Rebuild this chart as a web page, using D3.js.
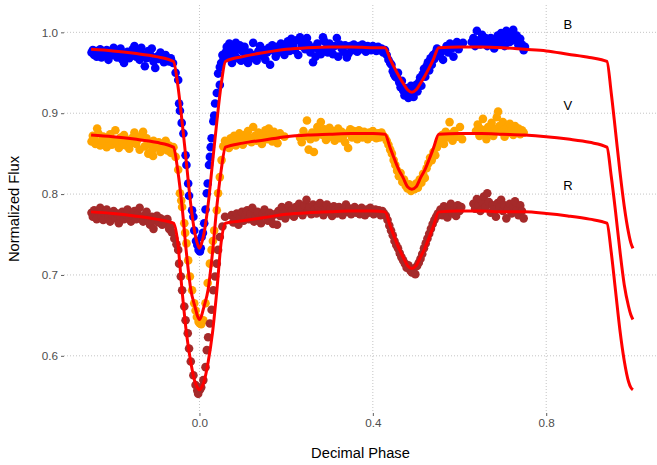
<!DOCTYPE html>
<html>
<head>
<meta charset="utf-8">
<script src="https://cdn.jsdelivr.net/npm/d3@7"></script>
<style>
  body { margin: 0; background: #ffffff; }
  text { font-family: "Liberation Sans", Arial, Helvetica, sans-serif; }
</style>
</head>
<body>
<svg id="chart" width="657" height="465"></svg>
<script>
// Observed photometry: [phase, normalized flux]
const bandB = [
  [-0.249,0.975],[-0.246,0.978],[-0.243,0.972],[-0.240,0.977],[-0.237,0.970],[-0.233,0.974],[-0.229,0.979],[-0.226,0.969],
  [-0.222,0.975],[-0.218,0.972],[-0.214,0.978],[-0.210,0.966],[-0.206,0.971],[-0.202,0.975],[-0.198,0.981],[-0.194,0.977],
  [-0.190,0.969],[-0.186,0.973],[-0.182,0.980],[-0.178,0.966],[-0.174,0.962],[-0.170,0.971],[-0.166,0.976],[-0.162,0.968],
  [-0.158,0.974],[-0.154,0.979],[-0.150,0.983],[-0.146,0.970],[-0.142,0.976],[-0.138,0.966],[-0.134,0.981],[-0.130,0.972],
  [-0.126,0.958],[-0.122,0.968],[-0.118,0.977],[-0.114,0.973],[-0.110,0.980],[-0.106,0.964],[-0.102,0.956],[-0.098,0.970],
  [-0.094,0.967],[-0.090,0.975],[-0.086,0.969],[-0.082,0.963],[-0.078,0.972],[-0.074,0.967],[-0.070,0.964],[-0.066,0.968],
  [-0.061,0.962],[-0.055,0.950],[-0.049,0.941],[-0.047,0.912],[-0.045,0.903],[-0.041,0.888],[-0.037,0.875],[-0.032,0.848],
  [-0.030,0.836],[-0.026,0.813],[-0.024,0.798],[-0.017,0.780],[-0.014,0.772],[-0.012,0.755],[-0.008,0.742],[-0.005,0.737],
  [-0.002,0.731],[0.001,0.729],[0.003,0.733],[0.005,0.747],[0.008,0.752],[0.011,0.764],[0.014,0.781],[0.017,0.801],
  [0.019,0.813],[0.022,0.836],[0.024,0.846],[0.026,0.858],[0.028,0.869],[0.032,0.890],[0.034,0.897],[0.036,0.912],
  [0.040,0.925],[0.043,0.949],[0.047,0.935],[0.047,0.957],[0.050,0.962],[0.053,0.972],[0.056,0.968],
  [0.060,0.975],[0.063,0.982],[0.066,0.970],[0.069,0.986],[0.072,0.978],[0.075,0.962],[0.078,0.983],[0.081,0.973],
  [0.084,0.987],[0.087,0.968],[0.090,0.979],[0.093,0.984],[0.096,0.965],[0.100,0.976],[0.104,0.982],[0.108,0.970],
  [0.112,0.962],[0.116,0.975],[0.120,0.968],[0.124,0.987],[0.128,0.972],[0.132,0.965],[0.136,0.977],[0.140,0.983],
  [0.144,0.971],[0.148,0.978],[0.152,0.966],[0.156,0.975],[0.160,0.981],[0.163,0.960],[0.168,0.984],[0.172,0.977],
  [0.176,0.970],[0.180,0.982],[0.184,0.976],[0.188,0.986],[0.192,0.979],[0.196,0.972],[0.200,0.983],[0.204,0.989],
  [0.208,0.977],[0.212,0.992],[0.216,0.984],[0.220,0.978],[0.224,0.990],[0.228,0.972],[0.232,0.994],[0.236,0.983],
  [0.240,0.988],[0.244,0.979],[0.248,0.993],[0.252,0.985],[0.256,0.975],[0.262,0.963],[0.264,0.981],[0.268,0.970],
  [0.272,0.986],[0.276,0.978],[0.280,0.973],[0.285,0.994],[0.288,0.989],[0.292,0.980],[0.296,0.975],[0.300,0.986],
  [0.304,0.979],[0.308,0.973],[0.312,0.983],[0.317,0.993],[0.320,0.970],[0.324,0.985],[0.328,0.980],[0.332,0.976],
  [0.336,0.984],[0.340,0.969],[0.344,0.974],[0.348,0.983],[0.352,0.978],[0.356,0.985],[0.360,0.981],[0.364,0.976],
  [0.368,0.983],[0.372,0.979],[0.376,0.985],[0.380,0.980],[0.384,0.976],[0.388,0.983],[0.392,0.981],[0.396,0.978],
  [0.400,0.983],[0.404,0.980],[0.408,0.977],[0.412,0.982],[0.416,0.978],[0.420,0.980],[0.424,0.975],
  [0.428,0.978],[0.432,0.972],[0.436,0.966],[0.440,0.962],[0.443,0.960],[0.446,0.952],[0.449,0.948],[0.452,0.945],
  [0.455,0.944],[0.458,0.950],[0.461,0.938],[0.464,0.932],[0.467,0.940],[0.470,0.928],[0.473,0.922],[0.476,0.931],
  [0.479,0.925],[0.482,0.919],[0.485,0.928],[0.488,0.934],[0.491,0.924],[0.494,0.920],[0.497,0.929],[0.500,0.935],
  [0.503,0.927],[0.506,0.938],[0.509,0.944],[0.512,0.934],[0.515,0.948],[0.518,0.955],[0.521,0.945],[0.524,0.958],
  [0.527,0.963],[0.530,0.953],[0.533,0.968],[0.536,0.960],[0.539,0.972],[0.542,0.967],[0.545,0.975],[0.548,0.980],
  [0.551,0.971],[0.556,0.974],[0.562,0.966],[0.566,0.978],[0.570,0.983],[0.574,0.975],[0.578,0.986],[0.582,0.980],
  [0.586,0.970],[0.590,0.984],[0.594,0.988],[0.598,0.979],[0.602,0.985],[0.608,0.987],
  [0.628,0.988],[0.632,0.993],[0.636,0.983],[0.640,1.002],[0.644,0.990],[0.648,0.985],[0.652,0.997],[0.656,0.988],
  [0.660,0.993],[0.664,0.983],[0.668,0.989],[0.672,0.993],[0.676,0.987],[0.680,0.980],[0.684,0.990],[0.688,0.996],
  [0.692,0.985],[0.696,0.999],[0.700,0.992],[0.704,0.983],[0.708,1.002],[0.712,0.995],[0.716,0.988],[0.720,0.998],
  [0.724,1.003],[0.728,0.990],[0.732,0.996],[0.736,0.984],[0.740,0.992],[0.744,0.985],[0.748,0.978],[0.751,0.982]
];

const bandV = [
  [-0.249,0.865],[-0.246,0.872],[-0.243,0.868],[-0.240,0.862],[-0.236,0.881],[-0.233,0.875],[-0.229,0.860],[-0.226,0.866],
  [-0.222,0.871],[-0.218,0.864],[-0.214,0.858],[-0.210,0.869],[-0.206,0.874],[-0.202,0.861],[-0.198,0.867],[-0.194,0.879],
  [-0.190,0.863],[-0.186,0.857],[-0.182,0.870],[-0.178,0.865],[-0.174,0.873],[-0.170,0.860],[-0.166,0.867],[-0.162,0.856],
  [-0.158,0.863],[-0.154,0.870],[-0.150,0.876],[-0.146,0.862],[-0.142,0.868],[-0.138,0.855],[-0.134,0.872],[-0.130,0.877],
  [-0.126,0.859],[-0.122,0.869],[-0.118,0.850],[-0.114,0.861],[-0.110,0.853],[-0.106,0.866],[-0.107,0.847],[-0.098,0.858],
  [-0.094,0.864],[-0.090,0.852],[-0.086,0.861],[-0.082,0.857],[-0.078,0.866],[-0.074,0.854],[-0.070,0.860],[-0.066,0.851],
  [-0.060,0.858],[-0.055,0.846],[-0.049,0.830],[-0.045,0.801],[-0.042,0.792],[-0.040,0.784],[-0.035,0.764],[-0.033,0.752],
  [-0.030,0.739],[-0.026,0.718],[-0.022,0.698],[-0.017,0.681],[-0.012,0.665],[-0.009,0.656],[-0.006,0.648],[-0.002,0.642],
  [0.001,0.640],[0.004,0.639],[0.009,0.644],[0.014,0.665],[0.019,0.690],[0.024,0.714],[0.028,0.731],[0.031,0.742],
  [0.034,0.755],[0.040,0.780],[0.043,0.801],[0.047,0.821],[0.051,0.842],[0.055,0.859],[0.059,0.866],
  [0.064,0.862],[0.068,0.857],[0.072,0.869],[0.076,0.864],[0.080,0.872],[0.084,0.860],[0.088,0.866],[0.092,0.875],
  [0.096,0.868],[0.100,0.861],[0.104,0.873],[0.108,0.866],[0.112,0.878],[0.116,0.870],[0.120,0.864],[0.124,0.883],
  [0.128,0.872],[0.132,0.866],[0.136,0.876],[0.140,0.869],[0.144,0.862],[0.148,0.874],[0.152,0.879],[0.156,0.868],
  [0.160,0.881],[0.164,0.873],[0.168,0.865],[0.172,0.877],[0.176,0.870],[0.180,0.863],[0.186,0.875],[0.196,0.871],
  [0.232,0.870],[0.236,0.864],[0.240,0.878],[0.244,0.872],[0.248,0.891],[0.252,0.855],[0.256,0.868],[0.260,0.876],
  [0.264,0.852],[0.268,0.870],[0.272,0.883],[0.276,0.877],[0.280,0.889],[0.284,0.873],[0.288,0.880],[0.292,0.867],
  [0.296,0.876],[0.300,0.882],[0.304,0.871],[0.308,0.878],[0.312,0.866],[0.316,0.874],[0.320,0.881],[0.324,0.869],
  [0.328,0.877],[0.332,0.872],[0.336,0.864],[0.343,0.857],[0.344,0.876],[0.348,0.880],[0.352,0.870],[0.356,0.878],
  [0.360,0.873],[0.364,0.868],[0.368,0.879],[0.372,0.874],[0.376,0.870],[0.380,0.877],[0.384,0.872],[0.388,0.868],
  [0.392,0.876],[0.396,0.871],[0.400,0.878],[0.404,0.873],[0.408,0.869],[0.412,0.875],[0.416,0.870],[0.420,0.876],
  [0.424,0.872],
  [0.428,0.870],[0.432,0.866],[0.436,0.861],[0.440,0.855],[0.444,0.850],[0.448,0.842],[0.452,0.836],[0.456,0.829],
  [0.460,0.822],[0.464,0.826],[0.468,0.815],[0.472,0.818],[0.476,0.810],[0.480,0.807],[0.484,0.812],[0.488,0.804],
  [0.492,0.809],[0.496,0.806],[0.500,0.813],[0.504,0.808],[0.508,0.818],[0.512,0.814],[0.516,0.825],[0.520,0.820],
  [0.524,0.832],[0.528,0.838],[0.532,0.845],[0.536,0.842],[0.540,0.852],[0.544,0.848],[0.548,0.858],[0.552,0.864],
  [0.556,0.868],[0.560,0.873],[0.564,0.862],[0.568,0.877],[0.572,0.870],[0.577,0.889],[0.580,0.874],[0.584,0.866],
  [0.588,0.878],[0.596,0.871],[0.601,0.883],[0.606,0.868],
  [0.638,0.878],[0.642,0.886],[0.646,0.872],[0.650,0.880],[0.654,0.893],[0.658,0.875],[0.662,0.868],[0.666,0.883],
  [0.670,0.877],[0.674,0.888],[0.678,0.872],[0.682,0.880],[0.686,0.895],[0.689,0.902],[0.692,0.884],[0.696,0.877],
  [0.700,0.889],[0.704,0.871],[0.708,0.882],[0.712,0.876],[0.716,0.887],[0.720,0.879],[0.724,0.873],[0.728,0.884],
  [0.732,0.877],[0.736,0.881],[0.740,0.874],[0.744,0.879],[0.748,0.876]
];

const bandR = [
  [-0.249,0.777],[-0.246,0.772],[-0.243,0.780],[-0.240,0.775],[-0.237,0.769],[-0.233,0.778],[-0.229,0.783],[-0.226,0.773],
  [-0.222,0.768],[-0.218,0.776],[-0.214,0.781],[-0.210,0.771],[-0.206,0.766],[-0.202,0.775],[-0.198,0.779],[-0.194,0.770],
  [-0.190,0.776],[-0.186,0.764],[-0.182,0.772],[-0.178,0.778],[-0.174,0.769],[-0.170,0.775],[-0.166,0.781],[-0.162,0.771],
  [-0.158,0.766],[-0.154,0.774],[-0.150,0.779],[-0.146,0.769],[-0.142,0.775],[-0.138,0.783],[-0.134,0.771],[-0.130,0.766],
  [-0.126,0.774],[-0.122,0.778],[-0.118,0.768],[-0.114,0.762],[-0.110,0.772],[-0.106,0.757],[-0.102,0.767],[-0.098,0.773],
  [-0.094,0.765],[-0.090,0.770],[-0.086,0.762],[-0.082,0.768],[-0.078,0.764],[-0.074,0.769],[-0.070,0.757],[-0.066,0.761],
  [-0.064,0.753],[-0.058,0.745],[-0.053,0.738],[-0.049,0.731],[-0.047,0.714],[-0.043,0.698],[-0.040,0.681],[-0.035,0.661],
  [-0.032,0.644],[-0.027,0.628],[-0.024,0.609],[-0.020,0.593],[-0.014,0.576],[-0.009,0.564],[-0.005,0.557],[-0.003,0.553],
  [0.001,0.558],[0.004,0.561],[0.009,0.570],[0.014,0.586],[0.017,0.607],[0.020,0.623],[0.024,0.640],[0.028,0.657],
  [0.032,0.681],[0.036,0.698],[0.040,0.714],[0.043,0.731],[0.047,0.747],[0.053,0.760],[0.059,0.772],
  [0.074,0.774],[0.078,0.765],[0.082,0.770],[0.086,0.776],[0.090,0.762],[0.094,0.771],[0.098,0.778],[0.102,0.767],
  [0.106,0.773],[0.110,0.780],[0.114,0.769],[0.118,0.775],[0.122,0.783],[0.126,0.766],[0.130,0.772],[0.134,0.778],
  [0.138,0.770],[0.142,0.764],[0.146,0.776],[0.150,0.781],[0.154,0.772],[0.158,0.767],[0.162,0.777],[0.166,0.771],
  [0.170,0.763],[0.174,0.775],[0.179,0.762],[0.182,0.779],[0.186,0.773],[0.190,0.784],[0.194,0.776],[0.198,0.770],
  [0.202,0.781],[0.206,0.786],[0.210,0.775],[0.214,0.780],[0.218,0.772],[0.222,0.784],[0.226,0.777],[0.230,0.788],
  [0.234,0.781],[0.238,0.774],[0.242,0.786],[0.247,0.793],[0.250,0.779],[0.254,0.784],[0.258,0.775],[0.262,0.787],
  [0.266,0.781],[0.270,0.776],[0.274,0.785],[0.278,0.789],[0.282,0.779],[0.286,0.774],[0.290,0.783],[0.294,0.787],
  [0.298,0.778],[0.302,0.782],[0.306,0.773],[0.310,0.785],[0.314,0.780],[0.318,0.776],[0.322,0.784],[0.326,0.779],
  [0.330,0.774],[0.334,0.783],[0.338,0.787],[0.342,0.778],[0.346,0.782],[0.350,0.775],[0.354,0.780],[0.358,0.784],
  [0.362,0.777],[0.366,0.781],[0.370,0.775],[0.374,0.783],[0.378,0.779],[0.382,0.774],[0.386,0.781],[0.390,0.777],
  [0.394,0.783],[0.398,0.778],[0.402,0.775],[0.406,0.781],[0.410,0.777],[0.414,0.780],[0.418,0.774],[0.422,0.779],
  [0.426,0.776],
  [0.430,0.773],[0.434,0.768],[0.438,0.761],[0.442,0.755],[0.446,0.749],[0.450,0.742],[0.454,0.737],[0.458,0.733],
  [0.462,0.727],[0.466,0.722],[0.470,0.718],[0.474,0.714],[0.478,0.709],[0.482,0.712],[0.486,0.706],[0.490,0.703],
  [0.494,0.708],[0.498,0.701],[0.502,0.711],[0.506,0.715],[0.510,0.720],[0.514,0.726],[0.518,0.733],[0.522,0.739],
  [0.526,0.745],[0.530,0.751],[0.534,0.757],[0.538,0.763],[0.542,0.768],[0.546,0.772],[0.550,0.776],
  [0.556,0.781],[0.560,0.774],[0.564,0.785],[0.568,0.778],[0.572,0.771],[0.576,0.783],[0.580,0.788],[0.584,0.776],
  [0.588,0.781],[0.592,0.773],[0.596,0.786],[0.600,0.779],[0.604,0.784],
  [0.632,0.788],[0.636,0.782],[0.640,0.794],[0.644,0.786],[0.648,0.779],[0.652,0.791],[0.656,0.797],[0.660,0.784],
  [0.664,0.801],[0.668,0.790],[0.672,0.777],[0.676,0.786],[0.680,0.781],[0.684,0.772],[0.688,0.789],[0.692,0.784],
  [0.696,0.793],[0.700,0.779],[0.704,0.786],[0.708,0.770],[0.712,0.782],[0.716,0.788],[0.720,0.776],[0.724,0.784],
  [0.728,0.791],[0.732,0.780],[0.736,0.774],[0.740,0.786],[0.744,0.779],[0.748,0.770]
];

// Synthetic light-curve model, sampled at these phases
const modelPhase = [-0.25,-0.2,-0.15,-0.1,-0.06,-0.05,-0.04,-0.03,-0.02,-0.01,-0.005,0,0.005,0.01,0.02,0.03,0.04,0.05,0.06,
  0.1,0.15,0.2,0.25,0.3,0.35,0.4,0.428,0.44,0.45,0.46,0.47,0.48,0.49,0.5,0.51,0.52,0.53,0.54,0.552,
  0.6,0.65,0.7,0.75,0.8,0.85,0.9,0.94,0.95,0.96,0.97,0.98,0.99,0.995,1.0];
const modelB = [0.979,0.977,0.974,0.970,0.964,0.935,0.889,0.838,0.787,0.750,0.739,0.733,0.739,0.750,0.787,0.838,0.889,0.935,0.964,
  0.970,0.975,0.979,0.981,0.982,0.982,0.981,0.981,0.967,0.956,0.946,0.937,0.929,0.926,0.929,0.937,0.946,0.956,0.967,0.981,
  0.982,0.982,0.981,0.979,0.977,0.973,0.969,0.964,0.925,0.877,0.828,0.785,0.752,0.740,0.733];
const modelV = [0.873,0.871,0.868,0.864,0.858,0.829,0.784,0.727,0.682,0.660,0.650,0.645,0.650,0.660,0.682,0.727,0.784,0.829,0.858,
  0.863,0.867,0.871,0.873,0.874,0.875,0.875,0.874,0.857,0.843,0.830,0.820,0.809,0.806,0.809,0.820,0.830,0.843,0.857,0.874,
  0.875,0.875,0.874,0.873,0.871,0.868,0.864,0.858,0.822,0.778,0.730,0.688,0.661,0.651,0.645];
const modelR = [0.778,0.776,0.773,0.769,0.764,0.740,0.680,0.628,0.592,0.567,0.561,0.558,0.561,0.567,0.592,0.628,0.680,0.740,0.764,
  0.767,0.771,0.775,0.777,0.778,0.779,0.779,0.778,0.7605,0.7465,0.733,0.722,0.7115,0.708,0.7115,0.722,0.733,0.7465,0.7605,0.778,
  0.779,0.779,0.778,0.778,0.776,0.773,0.769,0.764,0.728,0.680,0.632,0.594,0.568,0.561,0.558];

const xTicks = [0.0, 0.4, 0.8];
const yTicks = [0.6, 0.7, 0.8, 0.9, 1.0];
const bandNames = ["B", "V", "R"];
const bandColors = ["#0000FF", "#FFA500", "#A52A2A"];
const labelPhase = 0.85;
const labelFlux = [1.01, 0.91, 0.81];

const svg = d3.select("#chart");
const W = 657, H = 465;
const plot = { left: 64, right: 660, top: 5, bottom: 413 };

svg.append("rect").attr("width", W).attr("height", H).attr("fill", "#ffffff");

const x = d3.scaleLinear().domain([-0.3125, 1.0625]).range([plot.left, plot.right]);
const y = d3.scaleLinear().domain([0.5293, 1.0338]).range([plot.bottom, plot.top]);

// dotted major grid
const grid = svg.append("g");
grid.selectAll("line.gx").data(xTicks).join("line")
  .attr("x1", d => x(d)).attr("x2", d => x(d))
  .attr("y1", plot.top).attr("y2", plot.bottom)
  .attr("stroke", "#c4c4c4").attr("stroke-width", 1).attr("stroke-dasharray", "1,2");
grid.selectAll("line.gy").data(yTicks).join("line")
  .attr("x1", plot.left).attr("x2", W)
  .attr("y1", d => y(d)).attr("y2", d => y(d))
  .attr("stroke", "#c4c4c4").attr("stroke-width", 1).attr("stroke-dasharray", "1,2");

// observations
const bands = [bandB, bandV, bandR];
bands.forEach((pts, i) => {
  svg.append("g").selectAll("circle").data(pts).join("circle")
    .attr("cx", d => x(d[0])).attr("cy", d => y(d[1]))
    .attr("r", 4.3).attr("fill", bandColors[i]);
});

// model curves
const models = [modelB, modelV, modelR];
const line = d3.line().x(d => x(d[0])).y(d => y(d[1])).curve(d3.curveMonotoneX);
models.forEach(m => {
  svg.append("path")
    .datum(modelPhase.map((p, k) => [p, m[k]]))
    .attr("d", line).attr("fill", "none")
    .attr("stroke", "#FF0000").attr("stroke-width", 3)
    .attr("stroke-linejoin", "round").attr("stroke-linecap", "butt");
});

// band labels
svg.append("g").selectAll("text").data(bandNames).join("text")
  .attr("x", x(labelPhase)).attr("y", (d, i) => y(labelFlux[i]))
  .attr("text-anchor", "middle").attr("dominant-baseline", "central")
  .attr("font-size", 13).attr("fill", "#000000").text(d => d);

// axes
const fmt = d3.format(".1f");
const xAxis = svg.append("g").attr("transform", `translate(0,${plot.bottom})`)
  .call(d3.axisBottom(x).tickValues(xTicks).tickFormat(fmt).tickSize(3).tickPadding(3));
const yAxis = svg.append("g").attr("transform", `translate(${plot.left},0)`)
  .call(d3.axisLeft(y).tickValues(yTicks).tickFormat(fmt).tickSize(3).tickPadding(3));
[xAxis, yAxis].forEach(a => {
  a.select(".domain").remove();
  a.selectAll(".tick line").attr("stroke", "#333333").attr("stroke-width", 0.8);
  a.selectAll(".tick text").attr("fill", "#4D4D4D").attr("font-size", 11.7)
    .style("font-family", "'Liberation Sans', Arial, sans-serif");
});

// axis titles
svg.append("text").attr("x", (plot.left + W) / 2).attr("y", 458)
  .attr("text-anchor", "middle").attr("font-size", 14.7).attr("fill", "#000")
  .text("Decimal Phase");
svg.append("text")
  .attr("transform", `translate(19,${(plot.top + plot.bottom) / 2}) rotate(-90)`)
  .attr("text-anchor", "middle").attr("font-size", 14.7).attr("fill", "#000")
  .text("Normalized Flux");
</script>
</body>
</html>
